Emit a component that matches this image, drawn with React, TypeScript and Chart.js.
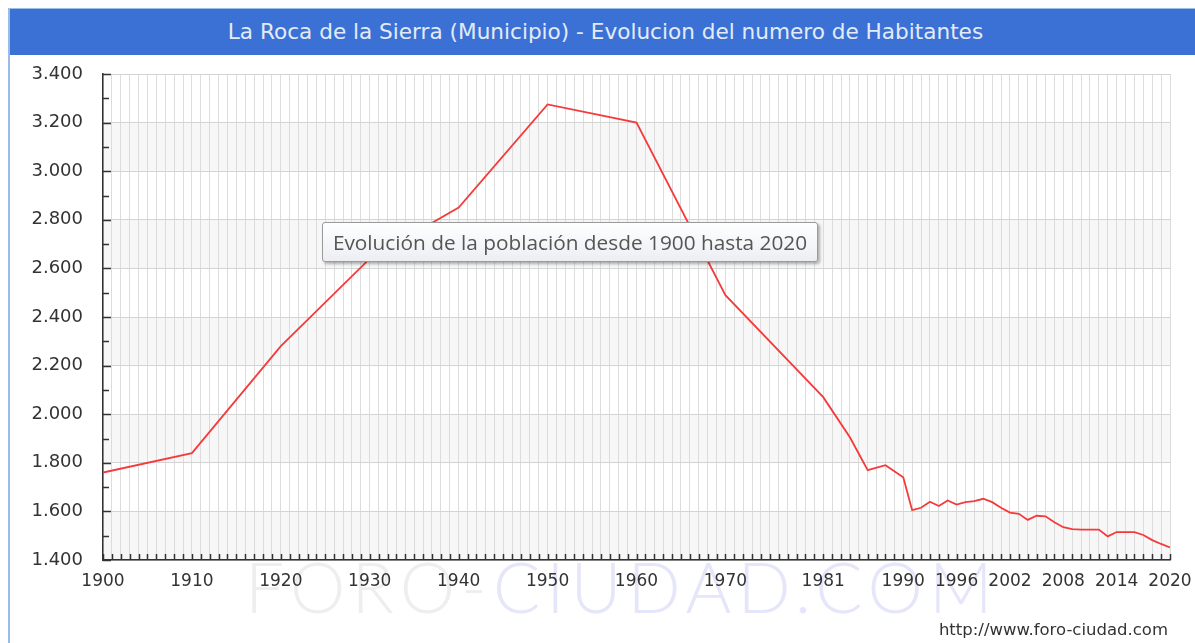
import React, { useEffect, useRef } from 'react';
import { Chart, registerables } from 'chart.js';

Chart.register(...registerables);

const years = [
  1900, 1910, 1920, 1930, 1940, 1950, 1960, 1970, 1981, 1984, 1986, 1988, 1990,
  1991, 1992, 1993, 1994, 1995, 1996, 1997, 1998, 1999, 2000, 2001, 2002, 2003,
  2004, 2005, 2006, 2007, 2008, 2009, 2010, 2011, 2012, 2013, 2014, 2015, 2016,
  2017, 2018, 2019, 2020,
];
const population = [
  1760, 1840, 2280, 2640, 2850, 3275, 3200, 2490, 2070, 1905, 1770, 1790, 1740,
  1605, 1615, 1640, 1622, 1645, 1628, 1638, 1642, 1652, 1638, 1615, 1595, 1590,
  1565, 1582, 1580, 1555, 1535, 1527, 1525, 1525, 1525, 1497, 1515, 1515, 1515,
  1503, 1482, 1466, 1452,
];
const xLabelYears = [1900, 1910, 1920, 1930, 1940, 1950, 1960, 1970, 1981, 1990, 1996, 2002, 2008, 2014, 2020];
const xMin = 1900;
const xMax = 2020;
const yMin = 1400;
const yMax = 3400;
const yStep = 200;
const yMinorStep = 100;

const titleText = 'La Roca de la Sierra (Municipio) - Evolucion del numero de Habitantes';
const noteText = 'Evolución de la población desde 1900 hasta 2020';
const urlText = 'http://www.foro-ciudad.com';

const fmt = (v: number) => String(v).replace(/\B(?=(\d{3})+(?!\d))/g, '.');

const bandsPlugin = {
  id: 'bands',
  beforeDraw(chart: any) {
    const { ctx, chartArea, scales } = chart;
    const y = scales.y;
    ctx.save();
    let idx = 0;
    for (let v = yMax; v > yMin; v -= yStep) {
      if (idx % 2 === 1) {
        const top = y.getPixelForValue(v);
        const bot = y.getPixelForValue(v - yStep);
        ctx.fillStyle = '#f7f7f7';
        ctx.fillRect(chartArea.left, top, chartArea.right - chartArea.left, bot - top);
      }
      idx++;
    }
    ctx.restore();
  },
};

const innerTicksPlugin = {
  id: 'innerTicks',
  afterDraw(chart: any) {
    const { ctx, chartArea, scales } = chart;
    ctx.save();
    ctx.strokeStyle = '#333';
    ctx.lineWidth = 1.5;
    ctx.beginPath();
    for (let yr = xMin; yr <= xMax; yr++) {
      const x = Math.round(scales.x.getPixelForValue(yr)) + 0.5;
      ctx.moveTo(x, chartArea.bottom);
      ctx.lineTo(x, chartArea.bottom - 6);
    }
    for (let v = yMin; v <= yMax; v += yMinorStep) {
      const yy = Math.round(scales.y.getPixelForValue(v)) + 0.5;
      const len = v % yStep === 0 ? 8 : 6;
      ctx.moveTo(chartArea.left, yy);
      ctx.lineTo(chartArea.left + len, yy);
    }
    ctx.stroke();
    ctx.restore();
  },
};

export default function App() {
  const canvasRef = useRef<HTMLCanvasElement | null>(null);

  useEffect(() => {
    if (!canvasRef.current) return;
    const allYears: number[] = [];
    for (let yr = xMin; yr <= xMax; yr++) allYears.push(yr);
    const chart = new Chart(canvasRef.current, {
      type: 'line',
      data: {
        datasets: [
          {
            data: years.map((yr, i) => ({ x: yr, y: population[i] })),
            borderColor: '#f53a3a',
            borderWidth: 1.8,
            pointRadius: 0,
            fill: false,
            tension: 0,
          },
        ],
      },
      options: {
        animation: false,
        responsive: false,
        devicePixelRatio: 1,
        layout: { padding: { top: 74, right: 25, bottom: 43, left: 0 } },
        plugins: { legend: { display: false }, tooltip: { enabled: false }, title: { display: false } },
        scales: {
          x: {
            type: 'linear',
            min: xMin,
            max: xMax,
            afterBuildTicks: (s: any) => {
              s.ticks = allYears.map((v) => ({ value: v }));
            },
            afterFit: (s: any) => {
              s.height = 40;
              s.paddingLeft = 0;
              s.paddingRight = 0;
            },
            ticks: {
              autoSkip: false,
              maxRotation: 0,
              minRotation: 0,
              padding: 11,
              color: '#333',
              font: { family: 'DejaVu Sans', size: 17 },
              callback: (v: any) => (xLabelYears.includes(Number(v)) ? String(v) : ''),
            },
            grid: { color: '#dcdcdc', lineWidth: 1, drawTicks: false },
            border: { color: '#333', width: 1.5 },
          },
          y: {
            min: yMin,
            max: yMax,
            afterFit: (s: any) => {
              s.width = 103;
              s.paddingTop = 0;
              s.paddingBottom = 0;
            },
            ticks: {
              stepSize: yStep,
              padding: 20,
              color: '#333',
              font: { family: 'DejaVu Sans', size: 18 },
              callback: (v: any) => fmt(Number(v)),
            },
            grid: { color: '#d4d4d4', lineWidth: 1, drawTicks: false },
            border: { color: '#333', width: 1.5 },
          },
        },
      },
      plugins: [bandsPlugin, innerTicksPlugin],
    });
    return () => chart.destroy();
  }, []);

  return (
    <div style={{ position: 'fixed', left: 0, top: 0, width: 1195, height: 643, overflow: 'hidden', background: '#fff' }}>
      <div
        style={{
          position: 'absolute',
          left: 8,
          top: 8,
          right: -10,
          bottom: -10,
          borderLeft: '2px solid #9dbbe8',
          borderTop: '1px solid #9dbbe8',
        }}
      />
      <div
        style={{
          position: 'absolute',
          left: 245,
          top: 546,
          fontFamily: 'Lato, sans-serif',
          fontWeight: 300,
          fontSize: 70,
          letterSpacing: 6,
          whiteSpace: 'nowrap',
          lineHeight: '80px',
          zIndex: 0,
        }}
      >
        <span style={{ color: '#eeeeee' }}>FORO-</span>
        <span style={{ color: '#e6e6fa' }}>CIUDAD.COM</span>
      </div>
      <canvas
        ref={canvasRef}
        width={1195}
        height={643}
        style={{ position: 'absolute', left: 0, top: 0, width: 1195, height: 643, zIndex: 1 }}
      />
      <div
        style={{
          position: 'absolute',
          left: 10,
          top: 9,
          width: 1191,
          height: 46,
          background: '#3b71d5',
          color: '#e4ebf8',
          fontFamily: '"DejaVu Sans", Verdana, sans-serif',
          fontSize: 21.6,
          lineHeight: '46px',
          textAlign: 'center',
          whiteSpace: 'nowrap',
          zIndex: 2,
        }}
      >
        {titleText}
      </div>
      <div
        style={{
          position: 'absolute',
          left: 322,
          top: 222,
          width: 496,
          height: 40,
          boxSizing: 'border-box',
          border: '1px solid #9a9a9a',
          borderRadius: 3,
          background: 'linear-gradient(#ffffff, #eceef2)',
          boxShadow: '2px 2px 3px rgba(0,0,0,0.3)',
          color: '#555',
          fontFamily: '"Open Sans", "Noto Sans", sans-serif',
          fontSize: 20.8,
          lineHeight: '38px',
          textAlign: 'center',
          whiteSpace: 'nowrap',
          zIndex: 3,
        }}
      >
        {noteText}
      </div>
      <div
        style={{
          position: 'absolute',
          right: 27,
          top: 619,
          color: '#333',
          fontFamily: '"DejaVu Sans", Verdana, sans-serif',
          fontSize: 16.5,
          lineHeight: '22px',
          whiteSpace: 'nowrap',
          zIndex: 3,
        }}
      >
        {urlText}
      </div>
    </div>
  );
}
